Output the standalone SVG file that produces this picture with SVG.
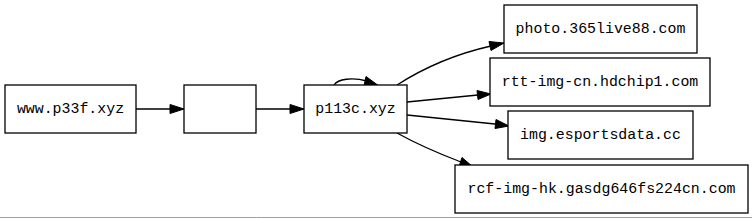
<svg xmlns="http://www.w3.org/2000/svg" width="752" height="219" viewBox="0 0 752 219">
<defs>
<style>
.n rect{fill:#fff;stroke:#000;stroke-width:1.3}
.n text{font-family:"Liberation Mono",monospace;font-size:14.9px;fill:#000;text-anchor:middle;dominant-baseline:central}
.e path{fill:none;stroke:#000;stroke-width:1.3}
.e polygon{fill:#000;stroke:#000;stroke-width:1}
</style>
</defs>
<rect width="752" height="219" fill="#fff"/>
<line x1="0" y1="217.5" x2="752" y2="217.5" stroke="#a0a0a0" stroke-width="1"/>
<g id="edges" class="e">
<path d="M136,109 L171,109"/>
<polygon points="170,104.5 184,109 170,113.5"/>
<path d="M256,109 L291,109"/>
<polygon points="290,104.5 304,109 290,113.5"/>
<path d="M334,85 C338,79 352,77 367,81"/>
<polygon points="366,76.5 379,86 364,86"/>
<path d="M397,85 C425,67 460,53 491,46"/>
<polygon points="489,41.5 504,43 491,50.5"/>
<path d="M407,102 L478,95"/>
<polygon points="477,90.5 491,94 478,99.5"/>
<path d="M407,115 L495,124"/>
<polygon points="496,119.5 509,126 495,128.5"/>
<path d="M397,133 C415,143 440,154 461,162"/>
<polygon points="462,157.5 473,167 459,166.5"/>
</g>
<g id="n1" class="n"><rect x="5" y="85" width="131" height="48"/><text x="70.5" y="109">www.p33f.xyz</text></g>
<g id="n2" class="n"><rect x="184" y="85" width="72" height="48"/></g>
<g id="n3" class="n"><rect x="304" y="85" width="103" height="48"/><text x="355.5" y="109">p113c.xyz</text></g>
<g id="n4" class="n"><rect x="504" y="5" width="193" height="48"/><text x="600.5" y="29">photo.365live88.com</text></g>
<g id="n5" class="n"><rect x="490" y="58" width="220" height="48"/><text x="600" y="82">rtt-img-cn.hdchip1.com</text></g>
<g id="n6" class="n"><rect x="508" y="111" width="185" height="48"/><text x="600.5" y="135">img.esportsdata.cc</text></g>
<g id="n7" class="n"><rect x="455" y="165" width="293" height="48"/><text x="601.5" y="189">rcf-img-hk.gasdg646fs224cn.com</text></g>
</svg>
